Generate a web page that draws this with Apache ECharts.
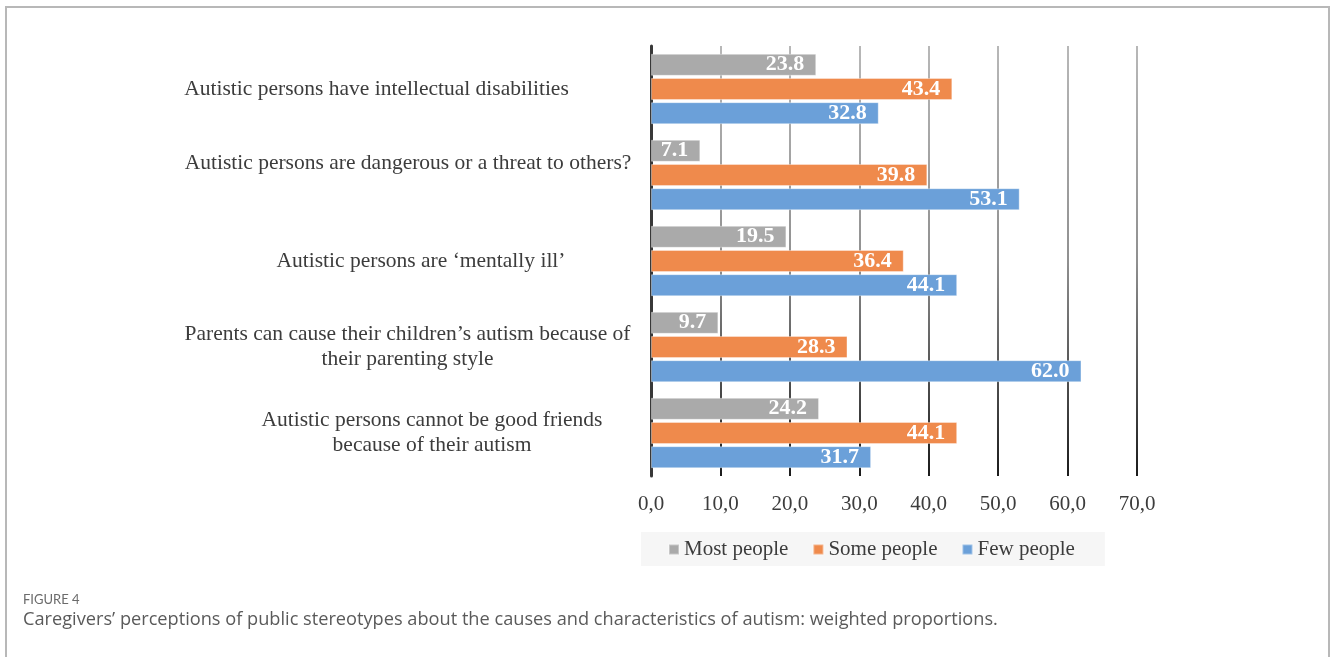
<!DOCTYPE html>
<html>
<head>
<meta charset="utf-8">
<script src="https://cdn.jsdelivr.net/npm/echarts@6/dist/echarts.min.js"></script>
<style>
html,body{margin:0;padding:0;background:#fff;}
#chart{width:1330px;height:657px;}
</style>
</head>
<body>
<div id="chart"></div>
<script>
const categories = [
  "Autistic persons have intellectual disabilities",
  "Autistic persons are dangerous or a threat to others?",
  "Autistic persons are \u2018mentally ill\u2019",
  "Parents can cause their children\u2019s autism because of\ntheir parenting style",
  "Autistic persons cannot be good friends\nbecause of their autism"
];
const seriesNames = ["Most people", "Some people", "Few people"];
const mostPeople = [23.8, 7.1, 19.5, 9.7, 24.2];
const somePeople = [43.4, 39.8, 36.4, 28.3, 44.1];
const fewPeople  = [32.8, 53.1, 44.1, 62.0, 31.7];
const xTicks = { min: 0, max: 70, interval: 10 };

// label layout tweaks (style only)
const labelPadding = [[0,111,0,0],[0,48,24,0],[0,22,0,0],[0,49,0,0],[0,0,0,0]];
const colors = ["#aaaaaa", "#ef8a4c", "#6ba0d9"];
const serif = "Liberation Serif";

const rich = {};
labelPadding.forEach((p, i) => {
  rich['l' + i] = { padding: p, align: 'center', fontSize: 21.5, lineHeight: 25, color: '#3c3c3c', fontFamily: serif };
});

const chart = echarts.init(document.getElementById('chart'));
const dataSets = [mostPeople, somePeople, fewPeople];

chart.setOption({
  animation: false,
  backgroundColor: '#ffffff',
  title: [
    { text: 'FIGURE 4', left: 23, top: 593, padding: 0, textStyle: { fontFamily: 'Lato', fontSize: 13, fontWeight: 'normal', color: '#6b6b6b' } },
    { text: 'Caregivers\u2019 perceptions of public stereotypes about the causes and characteristics of autism: weighted proportions.', left: 23, top: 611, padding: 0, textStyle: { fontFamily: 'Open Sans', fontSize: 18.2, fontWeight: 'normal', color: '#5a5a5a' } }
  ],
  graphic: [
    { type: 'rect', shape: { x: 6, y: 7, width: 1323, height: 700 }, style: { fill: 'none', stroke: '#b8b8b8', lineWidth: 2 }, silent: true, z: -1 }
  ],
  grid: { left: 651, top: 46, width: 486, height: 430, containLabel: false },
  legend: {
    data: seriesNames,
    left: 641, top: 532,
    padding: [7, 30, 6, 27],
    backgroundColor: '#f6f6f6',
    icon: 'rect', itemWidth: 10, itemHeight: 10, itemGap: 24,
    textStyle: { fontFamily: serif, fontSize: 21, color: '#3c3c3c' }
  },
  xAxis: {
    type: 'value', min: xTicks.min, max: xTicks.max, interval: xTicks.interval,
    axisLine: { show: false }, axisTick: { show: false },
    axisLabel: { margin: 18, fontFamily: serif, fontSize: 21, color: '#3c3c3c', formatter: v => v.toFixed(1).replace('.', ',') },
    splitLine: { show: true, lineStyle: { width: 2, color: new echarts.graphic.LinearGradient(0, 0, 0, 1, [
      { offset: 0, color: '#b8b8b8' }, { offset: 0.5, color: '#909090' }, { offset: 1, color: '#1a1a1a' }
    ]) } }
  },
  yAxis: {
    type: 'category', data: categories, inverse: true,
    axisLine: { show: true, lineStyle: { color: '#383838', width: 3 } },
    axisTick: { show: false },
    axisLabel: {
      margin: 219, align: 'center', verticalAlign: 'middle',
      formatter: (v, i) => '{l' + i + '|' + v + '}',
      rich: rich
    }
  },
  series: dataSets.map((d, k) => ({
    name: seriesNames[k], type: 'bar', data: d,
    barWidth: 22, barGap: '10%',
    itemStyle: { color: colors[k], borderColor: 'rgba(255,255,255,0.35)', borderWidth: 1 },
    label: { show: true, position: 'insideRight', distance: 12, color: '#ffffff', fontFamily: serif, fontWeight: 'bold', fontSize: 22, formatter: p => p.value.toFixed(1) }
  }))
});
</script>
</body>
</html>
